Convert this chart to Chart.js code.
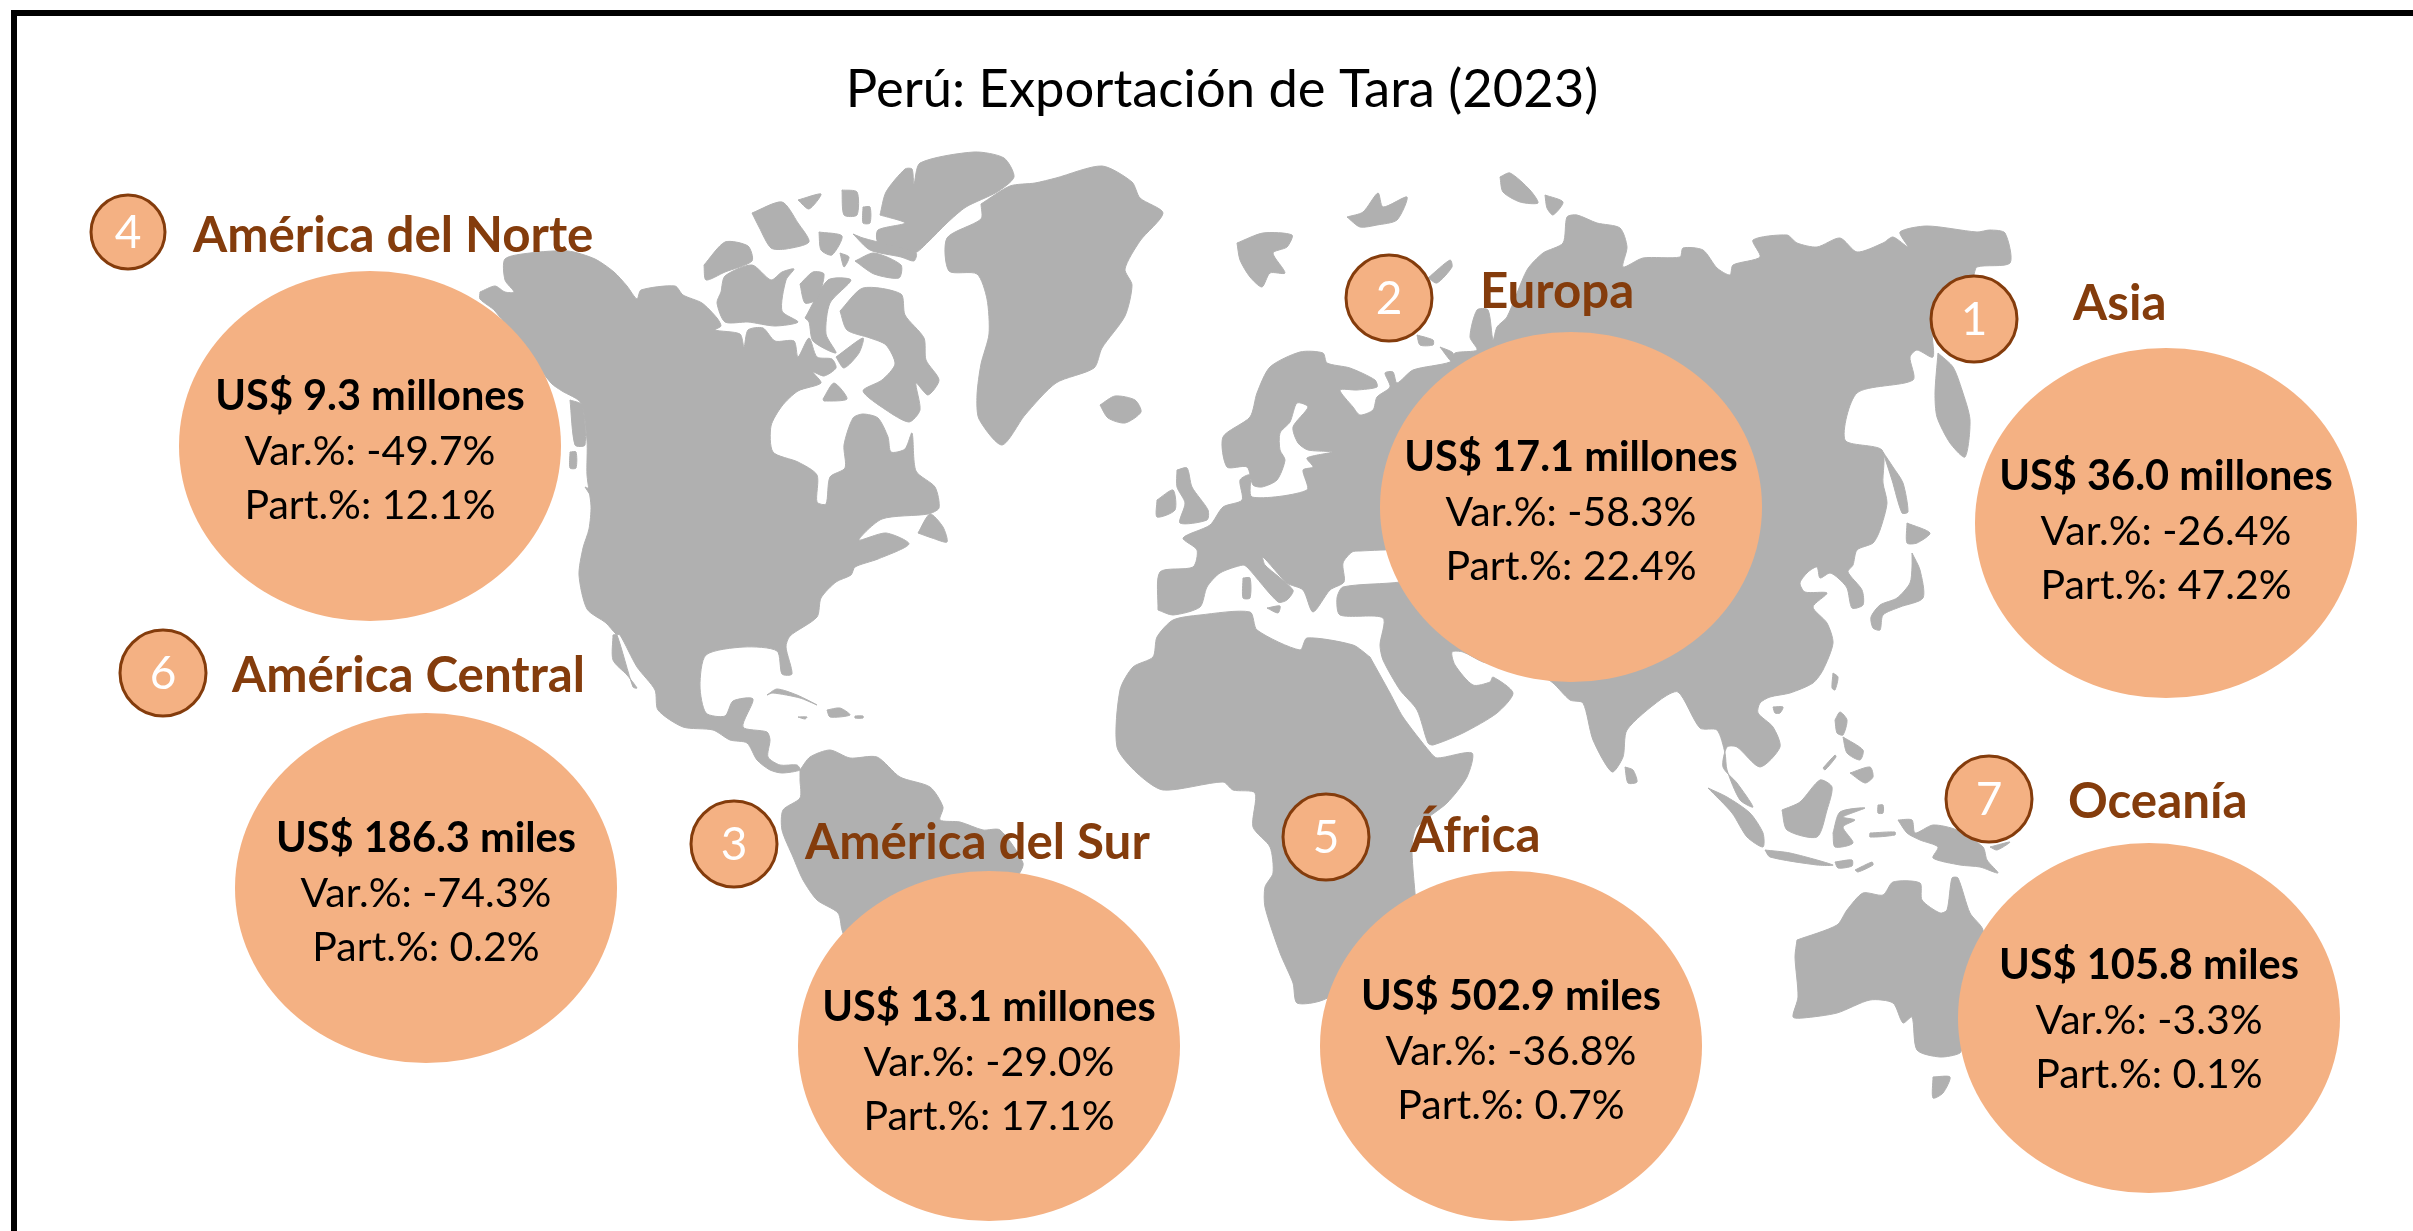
<!DOCTYPE html>
<html>
<head>
<meta charset="utf-8">
<title>Perú: Exportación de Tara (2023)</title>
<script src="https://cdn.jsdelivr.net/npm/chart.js@4/dist/chart.umd.min.js"></script>
<style>
html, body { margin: 0; padding: 0; background: #fff; overflow: hidden; }
#wrap { position: relative; width: 2413px; height: 1231px; }
#frame { position: absolute; left: 11px; top: 10px; right: -10px; bottom: -10px; border: 6px solid #000; }
</style>
</head>
<body>
<div id="wrap">
<canvas id="myMapChart" width="2413" height="1231"></canvas>
<div id="frame"></div>
</div>
<script>
var TITLE = 'Perú: Exportación de Tara (2023)';

// values, one entry per region
var regions = ['América del Norte', 'Europa', 'Asia', 'América Central', 'América del Sur', 'África', 'Oceanía'];
var ranks = [4, 2, 1, 6, 3, 5, 7];
var exportValues = [9.3, 17.1, 36.0, 186.3, 13.1, 502.9, 105.8];
var exportUnits = ['millones', 'millones', 'millones', 'miles', 'millones', 'miles', 'miles'];
var varPercent = [-49.7, -58.3, -26.4, -74.3, -29.0, -36.8, -3.3];
var partPercent = [12.1, 22.4, 47.2, 0.2, 17.1, 0.7, 0.1];

// layout, in the 2413x1231 units of the hidden axes
var bubbleCenters = [[370, 446], [1571, 507], [2166, 523], [426, 888], [989, 1046], [1511, 1046], [2149, 1018]];
var badgeCenters = [[128, 232], [1389, 298], [1974, 319], [163, 673], [734, 844], [1326, 837], [1989, 799]];
var badgeRadii = [37, 43, 43, 43, 43, 43, 43];
var nameAnchors = [[193, 252], [1480, 308], [2073, 320], [232, 692], [805, 859], [1410, 852], [2068, 818]];
var textShift = [1, 1, 4, 1, 12, 1, -2];

// land outlines
var eurasia = [[1158, 610], [1160, 572], [1193, 567], [1197, 550], [1183, 538], [1210, 525], [1223, 507], [1242, 500], [1240, 480], [1250, 475], [1252, 497], [1307, 490], [1303, 470], [1313, 467], [1307, 458], [1332, 452], [1308, 450], [1298, 443], [1293, 427], [1308, 407], [1297, 403], [1290, 422], [1280, 433], [1280, 450], [1285, 460], [1277, 480], [1262, 487], [1253, 485], [1247, 467], [1227, 467], [1223, 437], [1250, 417], [1257, 393], [1270, 367], [1300, 352], [1323, 353], [1327, 363], [1350, 368], [1375, 380], [1377, 387], [1357, 390], [1340, 390], [1353, 407], [1360, 415], [1373, 410], [1377, 397], [1390, 387], [1385, 373], [1393, 372], [1397, 383], [1413, 370], [1450, 362], [1455, 353], [1477, 350], [1470, 337], [1477, 310], [1488, 310], [1493, 340], [1497, 327], [1507, 317], [1527, 270], [1543, 253], [1563, 243], [1567, 217], [1577, 215], [1597, 223], [1620, 228], [1627, 247], [1623, 267], [1643, 258], [1680, 257], [1683, 248], [1703, 250], [1717, 268], [1730, 275], [1733, 265], [1760, 257], [1753, 240], [1787, 235], [1797, 243], [1817, 247], [1840, 238], [1857, 252], [1883, 243], [1893, 237], [1908, 247], [1900, 232], [1927, 226], [1977, 232], [1990, 230], [2005, 233], [2010, 263], [1977, 267], [1973, 277], [1933, 323], [1933, 357], [1917, 350], [1910, 357], [1913, 380], [1857, 393], [1845, 440], [1882, 450], [1883, 483], [1887, 503], [1880, 530], [1873, 543], [1857, 550], [1853, 565], [1848, 572], [1862, 590], [1863, 605], [1852, 608], [1847, 588], [1838, 578], [1830, 573], [1820, 578], [1817, 567], [1808, 572], [1800, 583], [1805, 592], [1827, 593], [1813, 607], [1827, 623], [1833, 643], [1823, 670], [1813, 683], [1790, 693], [1770, 697], [1760, 703], [1758, 713], [1773, 727], [1780, 747], [1760, 767], [1737, 747], [1727, 747], [1723, 767], [1737, 783], [1753, 807], [1740, 800], [1727, 770], [1725, 753], [1717, 730], [1700, 728], [1678, 692], [1660, 700], [1627, 730], [1623, 757], [1612, 772], [1593, 740], [1583, 703], [1570, 700], [1553, 683], [1540, 675], [1500, 665], [1483, 662], [1463, 652], [1452, 652], [1455, 665], [1473, 685], [1490, 682], [1493, 677], [1513, 693], [1497, 713], [1463, 733], [1433, 745], [1428, 743], [1417, 710], [1400, 690], [1383, 660], [1380, 645], [1383, 618], [1340, 615], [1337, 598], [1343, 587], [1400, 582], [1420, 575], [1420, 555], [1400, 550], [1360, 551], [1352, 552], [1343, 563], [1344, 582], [1330, 590], [1313, 612], [1303, 590], [1287, 583], [1263, 557], [1265, 565], [1293, 590], [1287, 600], [1278, 602], [1248, 568], [1243, 565], [1220, 573], [1207, 587], [1200, 607], [1173, 615]];
var africa = [[1370, 657], [1390, 693], [1403, 717], [1430, 752], [1437, 758], [1472, 753], [1467, 777], [1447, 803], [1417, 827], [1412, 847], [1415, 893], [1420, 950], [1323, 1000], [1297, 1003], [1293, 983], [1280, 953], [1265, 907], [1265, 887], [1273, 873], [1270, 847], [1253, 827], [1255, 793], [1233, 790], [1223, 782], [1163, 790], [1137, 773], [1117, 747], [1120, 690], [1133, 667], [1153, 657], [1157, 637], [1173, 620], [1200, 615], [1250, 612], [1257, 630], [1300, 650], [1307, 638], [1353, 645]];
var northAmerica = [[480, 292], [495, 286], [505, 292], [514, 292], [505, 280], [505, 259], [530, 253], [568, 251], [595, 259], [614, 272], [627, 286], [637, 299], [641, 290], [675, 286], [683, 295], [702, 303], [717, 318], [721, 326], [715, 330], [740, 334], [744, 347], [748, 330], [763, 328], [775, 341], [794, 341], [798, 357], [809, 338], [817, 357], [832, 359], [836, 368], [824, 376], [813, 372], [821, 383], [798, 391], [782, 406], [771, 426], [773, 452], [798, 462], [817, 475], [817, 502], [826, 504], [830, 477], [845, 468], [844, 445], [853, 418], [863, 414], [878, 418], [888, 437], [891, 452], [905, 449], [912, 433], [916, 471], [935, 487], [939, 508], [928, 514], [882, 519], [859, 540], [886, 533], [909, 544], [878, 559], [855, 567], [851, 575], [836, 582], [821, 598], [817, 617], [790, 636], [786, 647], [792, 674], [782, 674], [777, 651], [744, 647], [706, 655], [700, 686], [706, 713], [725, 716], [733, 701], [753, 699], [743, 727], [767, 732], [770, 740], [768, 757], [780, 765], [797, 765], [800, 770], [782, 773], [770, 770], [757, 760], [747, 743], [730, 740], [713, 730], [683, 727], [658, 710], [655, 690], [637, 667], [620, 635], [616, 634], [606, 623], [587, 609], [579, 575], [583, 548], [589, 529], [591, 506], [587, 475], [587, 441], [581, 403], [562, 391], [551, 383], [495, 311], [480, 299]];
var southAmerica = [[800, 770], [810, 757], [830, 750], [850, 758], [877, 757], [900, 777], [930, 787], [943, 807], [940, 820], [960, 822], [983, 830], [1000, 830], [1023, 863], [1017, 877], [967, 933], [900, 1000], [860, 980], [842, 930], [838, 913], [817, 900], [803, 880], [793, 857], [782, 830], [783, 810], [800, 798], [800, 780]];
var greenland = [[981, 204], [1010, 186], [1035, 183], [1056, 178], [1102, 166], [1132, 182], [1140, 198], [1163, 213], [1140, 241], [1125, 269], [1132, 285], [1125, 316], [1102, 348], [1094, 368], [1056, 383], [1025, 415], [1002, 445], [979, 419], [977, 395], [981, 364], [989, 334], [987, 299], [977, 274], [949, 271], [947, 238], [981, 219]];
var australia = [[1797, 940], [1837, 925], [1847, 910], [1863, 893], [1883, 895], [1893, 882], [1920, 883], [1922, 900], [1940, 913], [1947, 910], [1952, 878], [1958, 878], [1970, 913], [1983, 930], [1990, 1000], [1963, 1043], [1960, 1053], [1940, 1057], [1917, 1050], [1912, 1017], [1903, 1023], [1893, 1003], [1870, 1000], [1837, 1013], [1803, 1018], [1793, 1017], [1798, 997], [1795, 957]];
var arcticCanada = [
    [[704, 265], [725, 242], [748, 246], [752, 261], [725, 272], [706, 280]],
    [[721, 292], [725, 276], [752, 265], [771, 280], [782, 272], [794, 269], [786, 280], [782, 311], [798, 322], [775, 326], [748, 322], [725, 322], [717, 303]],
    [[800, 284], [813, 272], [824, 274], [817, 299], [805, 303]],
    [[805, 318], [828, 280], [851, 280], [830, 303], [826, 334], [836, 353], [813, 341], [809, 322]],
    [[840, 311], [863, 288], [901, 294], [905, 315], [924, 338], [926, 360], [939, 380], [928, 395], [916, 383], [920, 410], [909, 422], [886, 410], [863, 391], [882, 380], [895, 364], [886, 345], [870, 338], [847, 330]],
    [[836, 357], [863, 338], [859, 353], [844, 368]],
    [[823, 399], [834, 383], [847, 399], [824, 401]],
    [[752, 213], [782, 202], [798, 223], [809, 242], [786, 249], [771, 248], [759, 227]],
    [[798, 200], [821, 194], [809, 209]],
    [[842, 190], [857, 192], [857, 215], [844, 215]],
    [[863, 207], [870, 207], [870, 223], [863, 223]],
    [[819, 232], [842, 236], [832, 255], [821, 250]],
    [[840, 253], [849, 257], [844, 267]],
    [[853, 234], [863, 238], [916, 253], [914, 261], [901, 257], [870, 250]],
    [[855, 261], [874, 253], [901, 265], [899, 278], [874, 274]],
    [[880, 215], [886, 192], [905, 169], [912, 169], [914, 184], [920, 163], [974, 152], [1004, 158], [1014, 177], [997, 192], [966, 207], [947, 223], [928, 242], [914, 253], [878, 242], [878, 230], [905, 223]]
];
var otherIslands = [
    [[613, 635], [617, 635], [633, 687], [637, 688], [627, 675], [613, 660]],
    [[570, 400], [582, 405], [585, 445], [575, 445]],
    [[570, 452], [576, 452], [576, 468], [570, 468]],
    [[585, 487], [599, 494], [604, 513], [595, 502]],
    [[918, 533], [930, 514], [943, 527], [947, 542], [932, 538]],
    [[767, 695], [777, 689], [797, 695], [817, 705], [800, 698], [773, 693]],
    [[827, 710], [840, 708], [850, 715], [830, 717]],
    [[798, 717], [807, 717], [805, 719]],
    [[855, 716], [863, 716], [863, 718], [855, 718]],
    [[1100, 405], [1115, 396], [1135, 400], [1141, 412], [1125, 423], [1108, 418]],
    [[1237, 243], [1263, 233], [1292, 235], [1287, 247], [1273, 253], [1285, 273], [1270, 273], [1262, 287], [1250, 277], [1240, 260]],
    [[1347, 217], [1363, 212], [1378, 193], [1383, 207], [1407, 197], [1397, 220], [1377, 225], [1360, 227]],
    [[1500, 177], [1510, 173], [1530, 190], [1538, 203], [1520, 202], [1503, 192]],
    [[1545, 195], [1563, 202], [1553, 215], [1547, 208]],
    [[1428, 278], [1450, 260], [1452, 267], [1437, 283]],
    [[1417, 335], [1433, 340], [1433, 345], [1420, 345]],
    [[1440, 347], [1453, 353], [1452, 362]],
    [[1177, 470], [1187, 468], [1192, 487], [1208, 510], [1207, 520], [1180, 523], [1185, 503], [1177, 487]],
    [[1157, 500], [1173, 490], [1175, 510], [1157, 517]],
    [[1243, 578], [1250, 578], [1250, 598], [1243, 598]],
    [[1267, 608], [1280, 606], [1278, 613]],
    [[1883, 452], [1893, 467], [1903, 483], [1908, 512], [1902, 513], [1892, 480]],
    [[1938, 353], [1953, 367], [1962, 390], [1970, 420], [1965, 457], [1950, 443], [1937, 417], [1935, 393]],
    [[1907, 523], [1930, 533], [1917, 543], [1907, 543]],
    [[1912, 553], [1920, 570], [1923, 598], [1900, 607], [1883, 615], [1880, 630], [1873, 628], [1871, 617], [1880, 605], [1897, 598], [1910, 583], [1912, 567]],
    [[1625, 767], [1633, 770], [1637, 782], [1628, 783]],
    [[1708, 788], [1727, 797], [1750, 813], [1763, 833], [1763, 847], [1747, 837], [1732, 813]],
    [[1765, 850], [1790, 853], [1833, 865], [1817, 865], [1770, 857]],
    [[1835, 862], [1852, 860], [1852, 866], [1838, 868]],
    [[1855, 870], [1872, 862], [1873, 865], [1858, 872]],
    [[1782, 810], [1800, 802], [1820, 780], [1832, 787], [1827, 810], [1817, 837], [1787, 830]],
    [[1833, 833], [1840, 812], [1865, 808], [1843, 817], [1855, 820], [1843, 827], [1853, 843], [1835, 847]],
    [[1835, 720], [1840, 712], [1847, 720], [1843, 735], [1837, 733]],
    [[1843, 737], [1863, 750], [1860, 760], [1847, 753]],
    [[1850, 773], [1870, 767], [1873, 777], [1865, 783]],
    [[1823, 768], [1835, 755], [1836, 757], [1825, 770]],
    [[1833, 673], [1838, 677], [1835, 690], [1832, 688]],
    [[1773, 707], [1783, 707], [1780, 713], [1775, 713]],
    [[1898, 820], [1912, 820], [1915, 833], [1933, 825], [1957, 830], [1983, 847], [1987, 860], [1998, 873], [1980, 867], [1960, 865], [1933, 858], [1938, 847], [1920, 840], [1907, 833]],
    [[1990, 847], [2010, 842], [1997, 850]],
    [[1878, 805], [1883, 805], [1883, 813], [1878, 813]],
    [[1870, 833], [1895, 832], [1895, 835], [1870, 837]],
    [[1933, 1077], [1950, 1077], [1943, 1093], [1933, 1098]]
];

var LAND = '#b0b0b0', OVAL = '#f4b183', BROWN = '#843c0c';
var OVAL_RX = 191, OVAL_RY = 175;
var FONT = 'Lato, "Open Sans", sans-serif';

function makeOval() {
    var c = document.createElement('canvas'),
        ctx;

    c.width = OVAL_RX * 2 + 2;
    c.height = OVAL_RY * 2 + 2;
    ctx = c.getContext('2d');
    ctx.fillStyle = OVAL;
    ctx.beginPath();
    ctx.ellipse(OVAL_RX + 1, OVAL_RY + 1, OVAL_RX, OVAL_RY, 0, 0, Math.PI * 2);
    ctx.fill();
    return c;
}

function toXY(pairs) {
    return pairs.map(function (p) {
        return { x: p[0], y: p[1] };
    });
}

function landDataset(pairs) {
    var points = toXY(pairs);

    points.push(points[0]);
    return {
        data: points,
        showLine: true,
        fill: 'shape',
        tension: 0.25,
        backgroundColor: LAND,
        borderColor: LAND,
        borderWidth: 1,
        pointRadius: 0,
        order: 3
    };
}

function buildDatasets() {
    var shapes = [eurasia, africa, northAmerica, southAmerica, greenland, australia]
            .concat(arcticCanada, otherIslands),
        result = shapes.map(landDataset);

    result.push({
        data: toXY(bubbleCenters),
        pointStyle: makeOval(),
        pointRadius: OVAL_RX,
        clip: false,
        order: 1
    });
    result.push({
        data: toXY(badgeCenters),
        pointStyle: 'circle',
        pointRadius: badgeRadii,
        backgroundColor: OVAL,
        borderColor: BROWN,
        borderWidth: 3,
        clip: false,
        order: 1
    });
    return result;
}

function formatPercent(v) {
    return v.toFixed(1) + '%';
}

var textPlugin = {
    id: 'mapText',
    afterDatasetsDraw: function (chart) {
        var ctx = chart.ctx,
            x = chart.scales.x,
            y = chart.scales.y;

        function put(text, px, py, font, color, align) {
            ctx.font = font;
            ctx.fillStyle = color;
            ctx.textAlign = align;
            ctx.textBaseline = 'alphabetic';
            ctx.fillText(text, px, py);
        }

        ctx.save();
        put(TITLE, x.getPixelForValue(1222), y.getPixelForValue(107), '52.5px ' + FONT, '#000', 'center');

        regions.forEach(function (name, i) {
            var cx = x.getPixelForValue(bubbleCenters[i][0]),
                cy = y.getPixelForValue(bubbleCenters[i][1] + textShift[i]);

            put(name, x.getPixelForValue(nameAnchors[i][0]), y.getPixelForValue(nameAnchors[i][1]), 'bold 49.3px ' + FONT, BROWN, 'left');
            put(String(ranks[i]), x.getPixelForValue(badgeCenters[i][0]), y.getPixelForValue(badgeCenters[i][1] + 16), '46px ' + FONT, '#fff', 'center');
            put('US$ ' + exportValues[i].toFixed(1) + ' ' + exportUnits[i], cx, cy - 37, 'bold 41.5px ' + FONT, '#000', 'center');
            put('Var.%: ' + formatPercent(varPercent[i]), cx, cy + 18, '41px ' + FONT, '#000', 'center');
            put('Part.%: ' + formatPercent(partPercent[i]), cx, cy + 72, '41px ' + FONT, '#000', 'center');
        });
        ctx.restore();
    }
};

var createMap = function () {
    return new Chart(document.getElementById('myMapChart').getContext('2d'), {
        type: 'scatter',
        data: { datasets: buildDatasets() },
        options: {
            responsive: false,
            animation: false,
            devicePixelRatio: 1,
            layout: { padding: 0, autoPadding: false },
            events: [],
            plugins: { legend: { display: false }, tooltip: { enabled: false } },
            scales: {
                x: { type: 'linear', min: 0, max: 2413, display: false },
                y: { type: 'linear', min: 0, max: 1231, reverse: true, display: false }
            }
        },
        plugins: [textPlugin]
    });
};

createMap();
</script>
</body>
</html>
